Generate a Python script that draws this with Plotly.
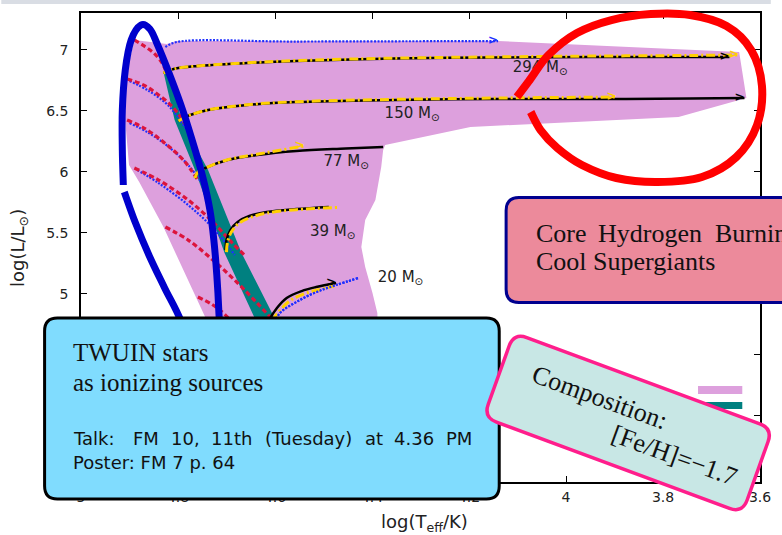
import math
import plotly.graph_objects as go

W, H = 782, 535
ML, MR, MT, MB = 81, 11, 13, 53
PW, PH = W - ML - MR, H - MT - MB

# ---------------- data ----------------
x_ticks = [5, 4.8, 4.6, 4.4, 4.2, 4, 3.8, 3.6]
x_tick_labels = ["5", "4.8", "4.6", "4.4", "4.2", "4", "3.8", "3.6"]
y_ticks = [3.5, 4, 4.5, 5, 5.5, 6, 6.5, 7]
y_tick_labels = ["3.5", "4", "4.5", "5", "5.5", "6", "6.5", "7"]

# core hydrogen burning region (plum)
region_logT = [4.890, 4.823, 4.803, 4.140, 3.643, 3.628, 3.768, 4.197, 4.373, 4.377, 4.381,
               4.393, 4.414, 4.422, 4.414, 4.399, 4.389, 4.381, 4.647, 4.744, 4.830, 4.880,
               4.901, 4.909, 4.909]
region_logL = [7.079, 7.046, 7.070, 7.070, 6.980, 6.603, 6.448, 6.366, 6.218, 6.177, 6.038,
               5.767, 5.603, 5.382, 5.218, 5.005, 4.841, 3.456, 3.456, 4.808, 5.546, 5.915,
               6.054, 6.423, 6.759]

# TWUIN band (teal)
band_logT = [4.830, 4.807, 4.765, 4.704, 4.643, 4.519, 4.464, 4.602, 4.669, 4.738, 4.793, 4.817]
band_logL = [6.816, 6.423, 6.013, 5.333, 4.808, 3.456, 3.456, 4.808, 5.333, 6.013, 6.423, 6.816]

masses = ["294", "150", "77", "39", "20"]

# black solid tracks
blk_logT = {
    "294": [4.830, 4.809, 4.759, 4.657, 4.556, 4.353, 4.150, 3.947, 3.744, 3.663],
    "150": [4.799, 4.789, 4.775, 4.738, 4.657, 4.556, 4.353, 4.150, 3.947, 3.744, 3.632],
    "77": [4.765, 4.759, 4.744, 4.698, 4.637, 4.556, 4.454, 4.377],
    "39": [4.702, 4.700, 4.692, 4.677, 4.653, 4.617, 4.556, 4.489],
    "20": [4.627, 4.612, 4.596, 4.576, 4.545, 4.515, 4.474],
}
blk_logL = {
    "294": [6.808, 6.841, 6.866, 6.890, 6.907, 6.927, 6.935, 6.939, 6.939, 6.939],
    "150": [6.415, 6.439, 6.464, 6.505, 6.546, 6.570, 6.587, 6.595, 6.595, 6.599, 6.603],
    "77": [5.947, 5.997, 6.029, 6.095, 6.136, 6.169, 6.189, 6.202],
    "39": [5.357, 5.439, 5.521, 5.587, 5.636, 5.669, 5.693, 5.710],
    "20": [4.661, 4.784, 4.882, 4.964, 5.021, 5.054, 5.087],
}
# yellow dash-dot tracks
yel_logT = {
    "294": [4.830, 4.809, 4.759, 4.657, 4.556, 4.353, 4.150, 3.947, 3.744, 3.643],
    "150": [4.799, 4.789, 4.775, 4.738, 4.657, 4.556, 4.353, 4.150, 3.896],
    "77": [4.765, 4.759, 4.744, 4.698, 4.637, 4.539],
    "39": [4.700, 4.698, 4.690, 4.675, 4.650, 4.617, 4.556, 4.470],
    "20": [4.622, 4.607, 4.590, 4.570, 4.540, 4.510, 4.478],
}
yel_logL = {
    "294": [6.808, 6.841, 6.866, 6.892, 6.910, 6.930, 6.940, 6.947, 6.952, 6.956],
    "150": [6.415, 6.439, 6.464, 6.505, 6.548, 6.573, 6.592, 6.603, 6.611],
    "77": [5.947, 5.997, 6.029, 6.097, 6.142, 6.210],
    "39": [5.340, 5.420, 5.505, 5.575, 5.625, 5.660, 5.688, 5.706],
    "20": [4.650, 4.770, 4.862, 4.940, 4.998, 5.032, 5.062],
}
# red dashed tracks
red_logT = [
    [4.890, 4.870, 4.850, 4.834, 4.826],
    [4.905, 4.880, 4.860, 4.840, 4.819, 4.799, 4.785],
    [4.905, 4.870, 4.830, 4.789, 4.759],
    [4.890, 4.840, 4.779, 4.728, 4.688, 4.663],
    [4.826, 4.779, 4.728, 4.677, 4.637, 4.610],
    [4.759, 4.728, 4.698, 4.677],
]
red_logL = [
    [7.079, 7.030, 6.972, 6.898, 6.833],
    [6.759, 6.726, 6.685, 6.628, 6.562, 6.472, 6.390],
    [6.423, 6.357, 6.243, 6.095, 5.931],
    [6.029, 5.931, 5.767, 5.587, 5.415, 5.316],
    [5.546, 5.439, 5.275, 5.087, 4.923, 4.808],
    [4.972, 4.907, 4.808, 4.701],
]
# blue dotted tracks
blu_logT = [
    [4.826, 4.803, 4.556, 4.140],
    [4.900, 4.860, 4.819, 4.785],
    [4.900, 4.860, 4.819, 4.779, 4.748],
    [4.884, 4.840, 4.779, 4.728, 4.683],
    [4.617, 4.602, 4.590, 4.556, 4.515, 4.474, 4.428],
]
blu_logL = [
    [7.021, 7.062, 7.066, 7.070],
    [6.743, 6.661, 6.538, 6.357],
    [6.398, 6.316, 6.202, 6.054, 5.890],
    [6.013, 5.906, 5.726, 5.538, 5.316],
    [4.640, 4.750, 4.841, 4.931, 5.013, 5.070, 5.128],
]

label_logT = [4.110, 4.374, 4.500, 4.528, 4.388]
label_logL = [6.849, 6.472, 6.079, 5.505, 5.128]
label_text = [m + " M<sub>⊙</sub>" for m in masses]

legend_names = ["Core H burning", "TWUIN"]

# ---------------- helpers for page decorations (pixel -> paper) ----------------
def fx(x):
    return (x - ML) / PW


def fy(y):
    return (H - MB - y) / PH


def pt(x, y):
    return f"{fx(x):.5f},{fy(y):.5f}"


def smooth_path(pts):
    n = len(pts)
    d = "M" + pt(*pts[0])
    for i in range(n - 1):
        p0 = pts[i - 1] if i > 0 else pts[i]
        p1 = pts[i]
        p2 = pts[i + 1]
        p3 = pts[i + 2] if i + 2 < n else pts[i + 1]
        c1 = (p1[0] + (p2[0] - p0[0]) / 6, p1[1] + (p2[1] - p0[1]) / 6)
        c2 = (p2[0] - (p3[0] - p1[0]) / 6, p2[1] - (p3[1] - p1[1]) / 6)
        d += " C" + pt(*c1) + " " + pt(*c2) + " " + pt(*p2)
    return d


def rrect(cx, cy, w, h, r, ang=0.0):
    a = math.radians(ang)
    ca, sa = math.cos(a), math.sin(a)

    def T(x, y):
        return pt(cx + x * ca - y * sa, cy + x * sa + y * ca)

    hw, hh = w / 2, h / 2
    d = "M" + T(-hw + r, -hh)
    d += " L" + T(hw - r, -hh) + " Q" + T(hw, -hh) + " " + T(hw, -hh + r)
    d += " L" + T(hw, hh - r) + " Q" + T(hw, hh) + " " + T(hw - r, hh)
    d += " L" + T(-hw + r, hh) + " Q" + T(-hw, hh) + " " + T(-hw, hh - r)
    d += " L" + T(-hw, -hh + r) + " Q" + T(-hw, -hh) + " " + T(-hw + r, -hh) + " Z"
    return d


fig = go.Figure()

fig.add_trace(go.Scatter(x=region_logT, y=region_logL, fill="toself", mode="none",
                         fillcolor="#DDA0DD", name=legend_names[0], hoverinfo="skip"))
fig.add_trace(go.Scatter(x=band_logT, y=band_logL, fill="toself", mode="none",
                         fillcolor="#008080", name=legend_names[1], hoverinfo="skip"))

for xs, ys in zip(blu_logT, blu_logL):
    fig.add_trace(go.Scatter(x=xs, y=ys, mode="lines",
                             line=dict(color="#1f2fff", width=2.2, dash="2px,1.5px", shape="spline")))
for xs, ys in zip(red_logT, red_logL):
    fig.add_trace(go.Scatter(x=xs, y=ys, mode="lines",
                             line=dict(color="#DC143C", width=3.2, dash="5px,3px", shape="spline")))
for m in masses:
    fig.add_trace(go.Scatter(x=blk_logT[m], y=blk_logL[m], mode="lines",
                             line=dict(color="black", width=2.5, shape="spline")))
for m in masses:
    fig.add_trace(go.Scatter(x=yel_logT[m], y=yel_logL[m], mode="lines",
                             line=dict(color="#FFD000", width=3, dash="9px,3px,2px,3px", shape="spline")))
fig.add_trace(go.Scatter(x=blu_logT[4], y=blu_logL[4], mode="lines",
                         line=dict(color="#1f2fff", width=2.2, dash="2px,1.5px", shape="spline")))

# arrow heads at track ends
ends = [
    (blu_logT[0][-1], blu_logL[0][-1], "#1f2fff"),
    (yel_logT["294"][-1], yel_logL["294"][-1], "#FFD000"),
    (yel_logT["150"][-1], yel_logL["150"][-1], "#FFD000"),
    (yel_logT["77"][-1], yel_logL["77"][-1], "#FFD000"),
    (blk_logT["294"][-1], blk_logL["294"][-1], "black"),
    (blk_logT["150"][-1], blk_logL["150"][-1], "black"),
    (blk_logT["20"][-1], blk_logL["20"][-1], "black"),
]
for ex, ey, col in ends:
    fig.add_trace(go.Scatter(x=[ex], y=[ey], mode="text", text=["<b>&gt;</b>"],
                             textposition="middle left",
                             textfont=dict(family="DejaVu Sans", size=12, color=col)))

fig.add_trace(go.Scatter(x=label_logT, y=label_logL, mode="text", text=label_text,
                         textposition="middle right",
                         textfont=dict(family="DejaVu Sans", size=15, color="#222")))

shapes = []
# slide header strip
shapes.append(dict(type="rect", xref="paper", yref="paper", x0=fx(0), x1=fx(W), y0=fy(0), y1=fy(4),
                   fillcolor="#d9dde4", line=dict(width=0), layer="above"))
# legend swatches
shapes.append(dict(type="rect", xref="paper", yref="paper", x0=fx(708), x1=fx(753), y0=fy(394), y1=fy(386),
                   fillcolor="#DDA0DD", line=dict(width=0), layer="above"))
shapes.append(dict(type="rect", xref="paper", yref="paper", x0=fx(708), x1=fx(753), y0=fy(409), y1=fy(402),
                   fillcolor="#008080", line=dict(width=0), layer="above"))
# blue hand-drawn ellipse
blue_pts = [(124, 185), (123, 150), (123, 110), (126, 70), (132, 40), (142, 25), (151, 29), (158, 43),
            (172, 77), (185, 112), (197, 150), (205, 178), (212, 210), (216, 240), (219, 275),
            (221, 310), (222, 345), (216, 385), (200, 372), (183, 322), (166, 288), (150, 255),
            (136, 222), (125, 192)]
shapes.append(dict(type="path", xref="paper", yref="paper", path=smooth_path(blue_pts),
                   line=dict(color="#0000CC", width=7), layer="above"))
# red hand-drawn ellipse
red_pts = [(524, 97), (537, 80), (556, 55), (585, 33), (620, 20), (660, 14), (700, 15), (737, 26),
           (762, 50), (773, 86), (768, 125), (747, 157), (712, 177), (667, 182), (625, 178),
           (590, 165), (565, 148), (548, 130), (538, 112)]
shapes.append(dict(type="path", xref="paper", yref="paper", path=smooth_path(red_pts),
                   line=dict(color="#FF0000", width=8), layer="above"))
# boxes
shapes.append(dict(type="path", xref="paper", yref="paper", path=rrect(662, 250, 298, 105, 13),
                   fillcolor="#EC8A9B", line=dict(color="#00008F", width=3), layer="above"))
shapes.append(dict(type="path", xref="paper", yref="paper", path=rrect(275, 408.5, 462, 181, 13),
                   fillcolor="#80DCFE", line=dict(color="black", width=3), layer="above"))
shapes.append(dict(type="path", xref="paper", yref="paper", path=rrect(637, 423, 280, 90, 14, 20),
                   fillcolor="#C8E7E5", line=dict(color="#FF1E8C", width=3.5), layer="above"))

ann = []
serif = "Liberation Serif"


def add_text(txt, x, y, size, family, xanchor="left", angle=0, color="#111"):
    ann.append(dict(text=txt, x=fx(x), y=fy(y), xref="paper", yref="paper", showarrow=False,
                    xanchor=xanchor, yanchor="middle", textangle=angle,
                    font=dict(family=family, size=size, color=color)))


add_text("TWUIN stars", 71, 352, 25, serif)
add_text("as ionizing sources", 71, 382, 25, serif)
talk_words = ["Talk:", "FM", "10,", "11th", "(Tuesday)", "at", "4.36", "PM"]
talk_x = [71, 132, 170, 211, 266, 368, 397, 450]
for wd, xx in zip(talk_words, talk_x):
    add_text(wd, xx, 438, 18, "DejaVu Sans")
add_text("Poster: FM 7 p. 64", 71, 462, 18, "DejaVu Sans")

for wd, xx in zip(["Core", "Hydrogen", "Burning"], [541, 604, 723]):
    add_text(wd, xx, 233, 26, serif)
add_text("Cool Supergiants", 541, 261, 26, serif)

add_text("Composition:", 608, 397, 26, serif, xanchor="center", angle=20)
add_text("[Fe/H]=−1.7", 684, 455, 26, serif, xanchor="center", angle=20)

# axis titles
add_text("log(L/L<sub>⊙</sub>)", 18, 248, 18, "DejaVu Sans", xanchor="center", angle=-90, color="#222")
add_text("log(T<sub>eff</sub>/K)", 430, 523, 18, "DejaVu Sans", xanchor="center", color="#222")

axis_common = dict(showline=True, linecolor="black", linewidth=1.5, mirror="ticks", ticks="inside",
                   ticklen=6, tickwidth=1.2, tickcolor="black", showgrid=False, zeroline=False,
                   tickfont=dict(family="DejaVu Sans", size=14, color="#222"))

fig.update_layout(
    width=W, height=H, autosize=False,
    margin=dict(l=ML, r=MR, t=MT, b=MB, pad=0),
    paper_bgcolor="white", plot_bgcolor="white",
    showlegend=False,
    xaxis=dict(range=[5, 3.6], tickvals=x_ticks, ticktext=x_tick_labels, ticklabelstandoff=1,
               **axis_common),
    yaxis=dict(range=[3.456, 7.3], tickvals=y_ticks, ticktext=y_tick_labels, ticklabelstandoff=8,
               **axis_common),
    shapes=shapes,
    annotations=ann,
)

fig.write_html("out.html")
